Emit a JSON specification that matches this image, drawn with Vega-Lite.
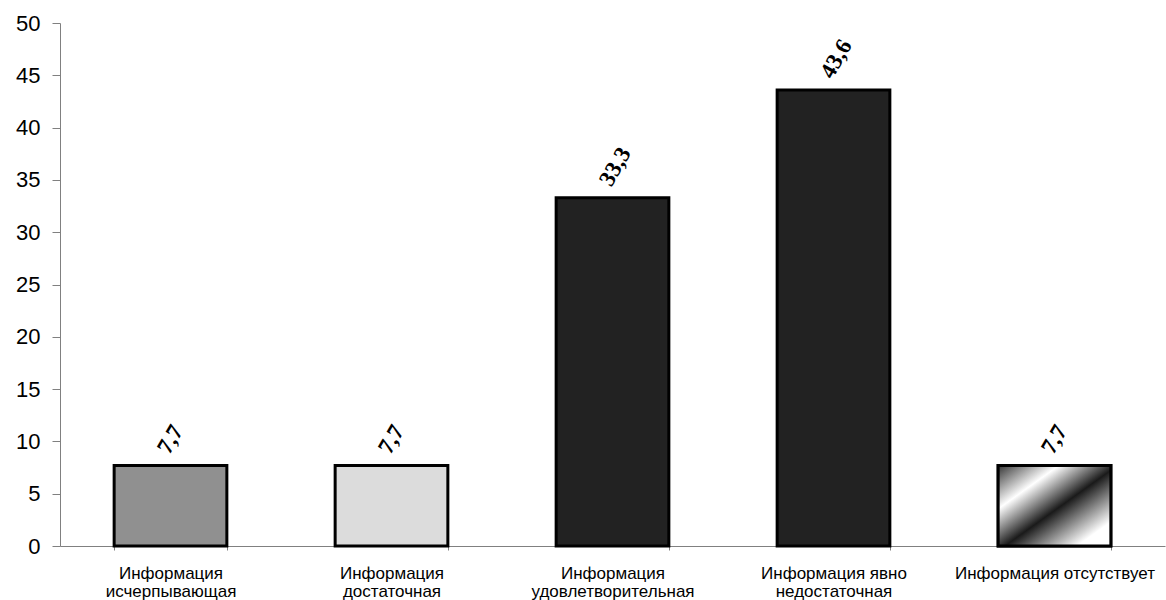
{
  "$schema": "https://vega.github.io/schema/vega-lite/v6.json",
  "width": 1105,
  "height": 523,
  "autosize": {"type": "none"},
  "padding": {"left": 60, "top": 23, "right": 1, "bottom": 54},
  "background": "white",
  "config": {"view": {"stroke": null}},
  "data": {
    "values": [
      {"category": "Информация исчерпывающая", "value": 7.7, "label": "7,7"},
      {"category": "Информация достаточная", "value": 7.7, "label": "7,7"},
      {"category": "Информация удовлетворительная", "value": 33.3, "label": "33,3"},
      {"category": "Информация явно недостаточная", "value": 43.6, "label": "43,6"},
      {"category": "Информация отсутствует", "value": 7.7, "label": "7,7"}
    ]
  },
  "encoding": {
    "x": {
      "field": "category",
      "type": "nominal",
      "sort": null,
      "scale": {"paddingInner": 0.49, "paddingOuter": 0.245},
      "axis": {
        "title": null,
        "labelAngle": 0,
        "labelFont": "Liberation Sans",
        "labelFontSize": 17,
        "labelLineHeight": 18,
        "labelColor": "#000000",
        "labelPadding": 15,
        "labelLimit": 300,
        "tickBand": "extent",
        "tickSize": 4,
        "tickColor": "#808080",
        "domainColor": "#808080",
        "labelExpr": "datum.label == 'Информация отсутствует' ? datum.label : [slice(datum.label, 0, lastindexof(datum.label, ' ')), slice(datum.label, lastindexof(datum.label, ' ') + 1)]"
      }
    },
    "y": {
      "field": "value",
      "type": "quantitative",
      "scale": {"domain": [0, 50], "nice": false},
      "axis": {
        "title": null,
        "values": [0, 5, 10, 15, 20, 25, 30, 35, 40, 45, 50],
        "grid": false,
        "labelFont": "Liberation Sans",
        "labelFontSize": 22,
        "labelColor": "#000000",
        "labelPadding": 12,
        "tickSize": 8,
        "tickColor": "#808080",
        "domainColor": "#808080"
      }
    }
  },
  "layer": [
    {
      "mark": {"type": "bar", "stroke": "#000000", "strokeWidth": 3},
      "encoding": {
        "fill": {
          "field": "category",
          "type": "nominal",
          "legend": null,
          "scale": {
            "domain": ["Информация исчерпывающая", "Информация достаточная", "Информация удовлетворительная", "Информация явно недостаточная", "Информация отсутствует"],
            "range": ["#909090", "#dcdcdc", "#222222", "#222222", "#ffffff"]
          }
        }
      }
    },
    {
      "transform": [{"filter": "datum.category == 'Информация отсутствует'"}],
      "mark": {
        "type": "bar",
        "stroke": "#000000",
        "strokeWidth": 3,
        "fill": {
          "gradient": "linear",
          "x1": 0, "y1": 0, "x2": 1, "y2": 1,
          "stops": [
            {"offset": 0, "color": "#333333"},
            {"offset": 0.27, "color": "#ffffff"},
            {"offset": 0.53, "color": "#1a1a1a"},
            {"offset": 0.85, "color": "#ffffff"},
            {"offset": 1, "color": "#ffffff"}
          ]
        }
      },
      "encoding": {}
    },
    {
      "mark": {
        "type": "text",
        "font": "Liberation Serif",
        "fontWeight": "bold",
        "fontSize": 23,
        "angle": -60,
        "align": "left",
        "baseline": "middle",
        "dx": 8,
        "dy": -13,
        "color": "#000000"
      },
      "encoding": {"text": {"field": "label"}}
    }
  ]
}
